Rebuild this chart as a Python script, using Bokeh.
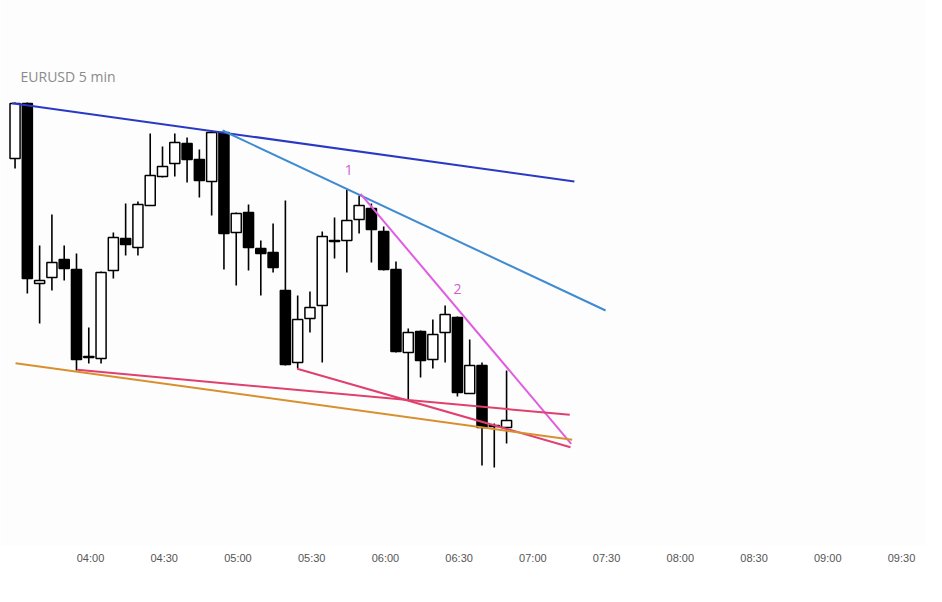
from bokeh.plotting import figure
from bokeh.models import Range1d, FixedTicker, Label, ColumnDataSource
from bokeh.embed import file_html
from bokeh.resources import INLINE
from bokeh.core.properties import value

# ---- data (5-minute EURUSD candles, price in relative points) ----
first_candle_min = 209.3   # ~03:30 in minutes after midnight
candle_step_min = 5
opens  = [342, 397, 217, 223, 241, 231, 143, 142, 230, 262, 253, 295, 324, 337, 357, 341, 319, 368, 268, 288,
          252, 248, 210, 138, 182, 195, 259, 260, 281, 292, 269, 231, 148, 169, 141, 168, 183, 107, 135, 75, 73]
highs  = [398, 398, 255, 286, 255, 247, 173, 229, 268, 297, 299, 367, 354, 367, 363, 351, 370, 370, 288, 296,
          260, 277, 300, 205, 209, 269, 283, 311, 305, 297, 274, 239, 172, 170, 181, 195, 184, 161, 138, 77, 130]
lows   = [332, 207, 177, 210, 220, 130, 137, 137, 222, 245, 245, 295, 323, 324, 318, 303, 285, 231, 215, 230,
          205, 228, 135, 132, 168, 138, 242, 228, 267, 238, 230, 148, 100, 123, 132, 138, 104, 107, 35, 33, 57]
closes = [397, 222, 220, 238, 232, 141, 144, 228, 263, 256, 296, 325, 334, 358, 341, 320, 368, 267, 287, 253,
          247, 233, 136, 181, 193, 264, 260, 280, 295, 271, 231, 149, 168, 140, 166, 186, 108, 135, 73, 74, 80]

tick_minutes = [240, 270, 300, 330, 360, 390, 420, 450, 480, 510, 540, 570]
tick_labels = ["04:00", "04:30", "05:00", "05:30", "06:00", "06:30",
               "07:00", "07:30", "08:00", "08:30", "09:00", "09:30"]

# trend lines: start/end time (minutes) and level
trend_names = ["upper", "upper2", "wave", "low_red1", "low_red2", "low_orange"]
trend_t0 = [208.1, 293.7, 349.9, 234.6, 324.1, 209.5]
trend_v0 = [397.3, 370.0, 306.7, 130.7, 131.7, 137.3]
trend_t1 = [436.9, 449.6, 435.6, 435.0, 435.3, 436.0]
trend_v1 = [319.0, 190.0, 56.7, 85.7, 53.3, 60.7]
trend_colors = ["#2a39c4", "#3f8bd2", "#e05ce0", "#e0406e", "#e0406e", "#d8902e"]

wave_label_text = ["1", "2"]
wave_label_t = [345.1, 389.3]
wave_label_v = [330.7, 212.0]

# ---- figure ----
W, H = 926, 586
p = figure(width=W, height=H, output_backend="svg", toolbar_location=None,
           x_range=Range1d(203.38, 580.17), y_range=Range1d(-45, 500),
           min_border_left=0, min_border_right=0, min_border_top=0, min_border_bottom=41)
p.outline_line_color = None
p.grid.visible = False
p.yaxis.visible = False
p.background_fill_color = "#fdfdfd"
p.border_fill_color = "white"

xa = p.xaxis[0]
xa.ticker = FixedTicker(ticks=tick_minutes)
xa.major_label_overrides = {t: l for t, l in zip(tick_minutes, tick_labels)}
xa.axis_line_color = None
xa.major_tick_line_color = None
xa.minor_tick_line_color = None
xa.major_tick_out = 0
xa.major_tick_in = 0
xa.major_label_standoff = 6
xa.major_label_text_font = "Liberation Sans"
xa.major_label_text_font_size = "11px"
xa.major_label_text_color = "#555555"

times = [first_candle_min + candle_step_min * i for i in range(len(opens))]
up = [c >= o for o, c in zip(opens, closes)]
src = ColumnDataSource(dict(
    t=times, o=opens, h=highs, l=lows, c=closes,
    top=[max(o, c) + (0.6 if abs(o - c) < 1 else 0) for o, c in zip(opens, closes)],
    bottom=[min(o, c) for o, c in zip(opens, closes)],
    fill=["white" if u else "black" for u in up],
))

p.segment(x0="t", y0="h", x1="t", y1="l", source=src, line_color="black", line_width=1.6)
p.vbar(x="t", width=4.1, top="top", bottom="bottom", source=src,
       fill_color="fill", line_color="black", line_width=1.5)

for t0, v0, t1, v1, col in zip(trend_t0, trend_v0, trend_t1, trend_v1, trend_colors):
    p.line([t0, t1], [v0, v1], line_color=col, line_width=2)

p.text(x=wave_label_t, y=wave_label_v, text=wave_label_text, text_color="#d060d0",
       text_font=value("Open Sans"), text_font_size="14px", text_align="center",
       text_baseline="middle")

p.add_layout(Label(x=20, y=469, x_units="screen", y_units="screen", text="EURUSD 5 min",
                   text_font="Open Sans", text_font_size="14px", text_color="#8a8a8a",
                   text_baseline="middle"))

open("out.html", "w").write(file_html(p, INLINE))
